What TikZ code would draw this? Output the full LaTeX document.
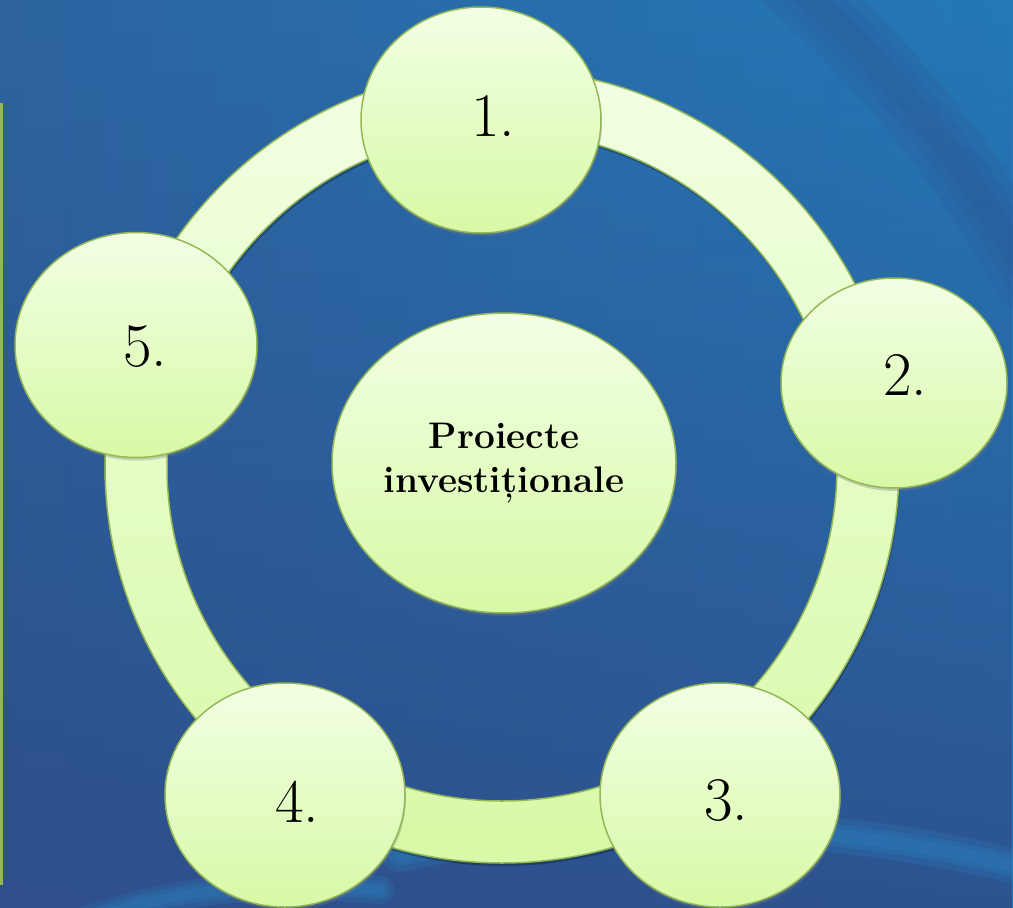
\documentclass[tikz,border=0pt]{standalone}
\usepackage{fontspec}
\usetikzlibrary{shapes.geometric, shadows, fadings}

\definecolor{bgleft}{HTML}{2C64A0}
\definecolor{bgright}{HTML}{2479B8}
\definecolor{bgdark}{HTML}{2F4A86}
\definecolor{swirlblue}{HTML}{2A90CE}
\definecolor{swirldark}{HTML}{2F5290}
\definecolor{ringline}{HTML}{94B855}
\definecolor{bubtop}{HTML}{F2FFE4}
\definecolor{bubbot}{HTML}{D8F9A6}

\tikzset{
  bubble/.style={ellipse, draw=ringline, line width=1.5pt, inner sep=0pt,
    top color=bubtop, bottom color=bubbot,
    drop shadow={opacity=0.35, shadow xshift=1pt, shadow yshift=-3pt}},
  num/.style={font=\fontsize{62}{62}\selectfont, inner sep=0pt},
  swirl/.style={line cap=round, opacity=0.18},
}

\begin{document}
\begin{tikzpicture}[x=1pt, y=-1pt]
  % background
  \useasboundingbox (0,0) rectangle (1013,908);
  \shade[left color=bgleft, right color=bgright] (0,0) rectangle (1013,908);
  \fill[bgdark, path fading=north, opacity=0.8] (0,0) rectangle (1013,908);
  \foreach \lw in {70,45,25} {
    \draw[swirl, swirldark, line width=\lw pt] (790,-20) .. controls (880,60) and (960,150) .. (1030,280);
    \draw[swirl, swirlblue, line width=0.5*\lw pt] (400,855) .. controls (560,815) and (820,815) .. (1030,870);
    \draw[swirl, swirlblue, line width=0.4*\lw pt] (60,930) .. controls (160,890) and (260,880) .. (380,890);
  }
  \draw[ringline, line width=3pt] (1.5,103) -- (1.5,885);

  % ring
  \coordinate (c) at (502,466);
  \fill[black, opacity=0.25, even odd rule] ([shift={(1,3)}]c) circle (397) ([shift={(1,3)}]c) circle (335);
  \shade[top color=bubtop, bottom color=bubbot, even odd rule]
    (c) circle (397) (c) circle (335);
  \draw[ringline, line width=1.5pt] (c) circle (397) (c) circle (335);

  % outer bubbles
  \foreach \n/\x/\y/\w/\h/\tx/\ty in {1/481/120/240/226/493/116, 2/894/383/226/210/905/375,
      3/720/795/240/224/726/800, 4/285/795/240/224/297/802, 5/136/345/242/225/145/347} {
    \node[bubble, minimum width=\w pt, minimum height=\h pt] (n\n) at (\x,\y) {};
    \node[num] (t\n) at (\tx,\ty) {\n.};
  }

  % centre
  \node[bubble, minimum width=344pt, minimum height=300pt, align=center,
    font=\bfseries\fontsize{37}{44}\selectfont] (centre) at (504,463)
    {Proiecte\\investiționale};
\end{tikzpicture}
\end{document}
